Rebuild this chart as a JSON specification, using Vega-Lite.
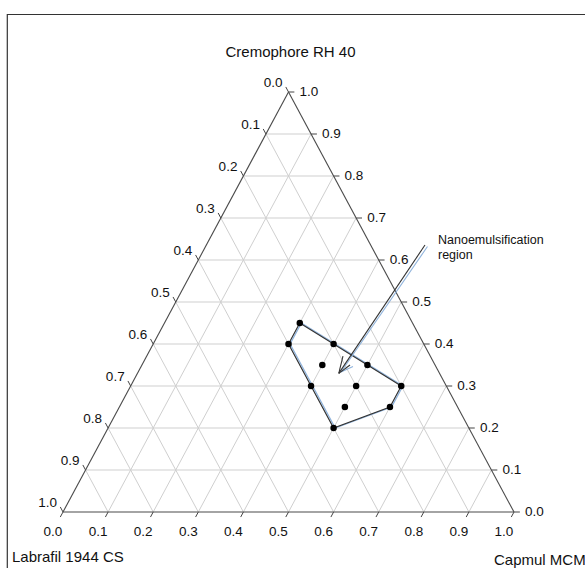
{
  "$schema": "https://vega.github.io/schema/vega-lite/v6.json",
  "width": 451,
  "height": 420,
  "autosize": {"type": "none"},
  "padding": {"left": 63, "top": 92, "right": 71, "bottom": 56},
  "background": "white",
  "config": {"view": {"stroke": null}, "text": {"font": "Liberation Sans", "color": "#111111"}},
  "datasets": {
    "grid": [
      {"a1": 0, "c1": 0.1, "a2": 0.9, "c2": 0.1},
      {"a1": 0, "c1": 0.2, "a2": 0.8, "c2": 0.2},
      {"a1": 0, "c1": 0.3, "a2": 0.7, "c2": 0.3},
      {"a1": 0, "c1": 0.4, "a2": 0.6, "c2": 0.4},
      {"a1": 0, "c1": 0.5, "a2": 0.5, "c2": 0.5},
      {"a1": 0, "c1": 0.6, "a2": 0.4, "c2": 0.6},
      {"a1": 0, "c1": 0.7, "a2": 0.3, "c2": 0.7},
      {"a1": 0, "c1": 0.8, "a2": 0.2, "c2": 0.8},
      {"a1": 0, "c1": 0.9, "a2": 0.1, "c2": 0.9},
      {"a1": 0.1, "c1": 0, "a2": 0.1, "c2": 0.9},
      {"a1": 0.2, "c1": 0, "a2": 0.2, "c2": 0.8},
      {"a1": 0.3, "c1": 0, "a2": 0.3, "c2": 0.7},
      {"a1": 0.4, "c1": 0, "a2": 0.4, "c2": 0.6},
      {"a1": 0.5, "c1": 0, "a2": 0.5, "c2": 0.5},
      {"a1": 0.6, "c1": 0, "a2": 0.6, "c2": 0.4},
      {"a1": 0.7, "c1": 0, "a2": 0.7, "c2": 0.3},
      {"a1": 0.8, "c1": 0, "a2": 0.8, "c2": 0.2},
      {"a1": 0.9, "c1": 0, "a2": 0.9, "c2": 0.1},
      {"a1": 0.1, "c1": 0, "a2": 0, "c2": 0.1},
      {"a1": 0.2, "c1": 0, "a2": 0, "c2": 0.2},
      {"a1": 0.3, "c1": 0, "a2": 0, "c2": 0.3},
      {"a1": 0.4, "c1": 0, "a2": 0, "c2": 0.4},
      {"a1": 0.5, "c1": 0, "a2": 0, "c2": 0.5},
      {"a1": 0.6, "c1": 0, "a2": 0, "c2": 0.6},
      {"a1": 0.7, "c1": 0, "a2": 0, "c2": 0.7},
      {"a1": 0.8, "c1": 0, "a2": 0, "c2": 0.8},
      {"a1": 0.9, "c1": 0, "a2": 0, "c2": 0.9}
    ],
    "edges": [
      {"a1": 0, "c1": 0, "a2": 1, "c2": 0},
      {"a1": 1, "c1": 0, "a2": 0, "c2": 1},
      {"a1": 0, "c1": 1, "a2": 0, "c2": 0}
    ],
    "ticks": [
      {"side": "b", "v": 0.0}, {"side": "b", "v": 0.1}, {"side": "b", "v": 0.2}, {"side": "b", "v": 0.3},
      {"side": "b", "v": 0.4}, {"side": "b", "v": 0.5}, {"side": "b", "v": 0.6}, {"side": "b", "v": 0.7},
      {"side": "b", "v": 0.8}, {"side": "b", "v": 0.9}, {"side": "b", "v": 1.0},
      {"side": "r", "v": 0.0}, {"side": "r", "v": 0.1}, {"side": "r", "v": 0.2}, {"side": "r", "v": 0.3},
      {"side": "r", "v": 0.4}, {"side": "r", "v": 0.5}, {"side": "r", "v": 0.6}, {"side": "r", "v": 0.7},
      {"side": "r", "v": 0.8}, {"side": "r", "v": 0.9}, {"side": "r", "v": 1.0},
      {"side": "l", "v": 0.0}, {"side": "l", "v": 0.1}, {"side": "l", "v": 0.2}, {"side": "l", "v": 0.3},
      {"side": "l", "v": 0.4}, {"side": "l", "v": 0.5}, {"side": "l", "v": 0.6}, {"side": "l", "v": 0.7},
      {"side": "l", "v": 0.8}, {"side": "l", "v": 0.9}, {"side": "l", "v": 1.0}
    ],
    "points": [
      {"capmul": 0.3, "crem": 0.45, "labrafil": 0.25},
      {"capmul": 0.3, "crem": 0.4, "labrafil": 0.3},
      {"capmul": 0.4, "crem": 0.4, "labrafil": 0.2},
      {"capmul": 0.4, "crem": 0.35, "labrafil": 0.25},
      {"capmul": 0.5, "crem": 0.35, "labrafil": 0.15},
      {"capmul": 0.4, "crem": 0.3, "labrafil": 0.3},
      {"capmul": 0.5, "crem": 0.3, "labrafil": 0.2},
      {"capmul": 0.6, "crem": 0.3, "labrafil": 0.1},
      {"capmul": 0.5, "crem": 0.25, "labrafil": 0.25},
      {"capmul": 0.6, "crem": 0.25, "labrafil": 0.15},
      {"capmul": 0.5, "crem": 0.2, "labrafil": 0.3}
    ],
    "region": [
      {"o": 1, "capmul": 0.3, "crem": 0.45},
      {"o": 2, "capmul": 0.6, "crem": 0.3},
      {"o": 3, "capmul": 0.6, "crem": 0.25},
      {"o": 4, "capmul": 0.5, "crem": 0.2},
      {"o": 5, "capmul": 0.3, "crem": 0.4},
      {"o": 6, "capmul": 0.3, "crem": 0.45}
    ],
    "arrow": [
      {"kind": "blue", "a1": 0.4921, "c1": 0.6321, "a2": 0.4497, "c2": 0.3333},
      {"kind": "blue", "a1": 0.4497, "c1": 0.3333, "a2": 0.4698, "c2": 0.3464},
      {"kind": "dark", "a1": 0.4848, "c1": 0.6357, "a2": 0.4465, "c2": 0.330},
      {"kind": "dark", "a1": 0.4465, "c1": 0.330, "a2": 0.4351, "c2": 0.3714},
      {"kind": "dark", "a1": 0.4465, "c1": 0.330, "a2": 0.4614, "c2": 0.350}
    ],
    "labels": [
      {"pos": "top", "a1": 0, "c1": 1, "text": "Cremophore RH 40"},
      {"pos": "left", "a1": 0, "c1": 0, "text": "Labrafil 1944 CS"},
      {"pos": "right", "a1": 1, "c1": 0, "text": "Capmul MCM"},
      {"pos": "note", "a1": 0.4848, "c1": 0.6357, "text": "Nanoemulsification\nregion"}
    ]
  },
  "layer": [
    {
      "data": {"values": [{}]},
      "mark": {"type": "rect", "fill": null, "stroke": "#333333", "strokeWidth": 1.2},
      "encoding": {
        "x": {"datum": -0.1235, "type": "quantitative", "scale": {"domain": [0, 1], "nice": false, "zero": false}, "axis": null},
        "x2": {"datum": 1.2},
        "y": {"datum": 1.1845, "type": "quantitative", "scale": {"domain": [0, 1], "nice": false, "zero": false}, "axis": null},
        "y2": {"datum": -0.25}
      }
    },
    {
      "data": {"name": "grid"},
      "transform": [
        {"calculate": "datum.a1 + datum.c1 / 2", "as": "x"},
        {"calculate": "datum.a2 + datum.c2 / 2", "as": "x2"}
      ],
      "mark": {"type": "rule", "stroke": "#cfcfcf", "strokeWidth": 1},
      "encoding": {
        "x": {"field": "x", "type": "quantitative", "scale": {"domain": [0, 1], "nice": false, "zero": false}, "axis": null},
        "y": {"field": "c1", "type": "quantitative", "scale": {"domain": [0, 1], "nice": false, "zero": false}, "axis": null},
        "x2": {"field": "x2"},
        "y2": {"field": "c2"}
      }
    },
    {
      "data": {"name": "ticks"},
      "transform": [
        {"calculate": "datum.side == 'b' ? datum.v : (datum.side == 'r' ? 1 - datum.v : 0)", "as": "a1"},
        {"calculate": "datum.side == 'b' ? 0 : (datum.side == 'r' ? datum.v : 1 - datum.v)", "as": "c1"},
        {"calculate": "datum.side == 'b' ? datum.v : (datum.side == 'r' ? 1 - datum.v + 0.013 : -0.012)", "as": "a2"},
        {"calculate": "datum.side == 'b' ? -0.012 : (datum.side == 'r' ? datum.v : 1 - datum.v + 0.012)", "as": "c2"},
        {"calculate": "datum.a1 + datum.c1 / 2", "as": "x"},
        {"calculate": "datum.a2 + datum.c2 / 2", "as": "x2"}
      ],
      "mark": {"type": "rule", "stroke": "#444444", "strokeWidth": 1},
      "encoding": {
        "x": {"field": "x", "type": "quantitative", "scale": {"domain": [0, 1], "nice": false, "zero": false}, "axis": null},
        "y": {"field": "c1", "type": "quantitative", "scale": {"domain": [0, 1], "nice": false, "zero": false}, "axis": null},
        "x2": {"field": "x2"},
        "y2": {"field": "c2"}
      }
    },
    {
      "data": {"name": "edges"},
      "transform": [
        {"calculate": "datum.a1 + datum.c1 / 2", "as": "x"},
        {"calculate": "datum.a2 + datum.c2 / 2", "as": "x2"}
      ],
      "mark": {"type": "rule", "stroke": "#4a4a4a", "strokeWidth": 1.1},
      "encoding": {
        "x": {"field": "x", "type": "quantitative", "scale": {"domain": [0, 1], "nice": false, "zero": false}, "axis": null},
        "y": {"field": "c1", "type": "quantitative", "scale": {"domain": [0, 1], "nice": false, "zero": false}, "axis": null},
        "x2": {"field": "x2"},
        "y2": {"field": "c2"}
      }
    },
    {
      "data": {"name": "ticks"},
      "transform": [
        {"filter": "datum.side == 'b'"},
        {"calculate": "datum.v", "as": "x"},
        {"calculate": "0", "as": "c1"}
      ],
      "mark": {"type": "text", "fontSize": 13.5, "align": "center", "baseline": "middle", "dx": -10, "dy": 20},
      "encoding": {
        "x": {"field": "x", "type": "quantitative", "scale": {"domain": [0, 1], "nice": false, "zero": false}, "axis": null},
        "y": {"field": "c1", "type": "quantitative", "scale": {"domain": [0, 1], "nice": false, "zero": false}, "axis": null},
        "text": {"field": "v", "type": "quantitative", "format": ".1f"}
      }
    },
    {
      "data": {"name": "ticks"},
      "transform": [
        {"filter": "datum.side == 'r'"},
        {"calculate": "1 - datum.v + datum.v / 2", "as": "x"},
        {"calculate": "datum.v", "as": "c1"}
      ],
      "mark": {"type": "text", "fontSize": 13.5, "align": "left", "baseline": "middle", "dx": 11, "dy": 0},
      "encoding": {
        "x": {"field": "x", "type": "quantitative", "scale": {"domain": [0, 1], "nice": false, "zero": false}, "axis": null},
        "y": {"field": "c1", "type": "quantitative", "scale": {"domain": [0, 1], "nice": false, "zero": false}, "axis": null},
        "text": {"field": "v", "type": "quantitative", "format": ".1f"}
      }
    },
    {
      "data": {"name": "ticks"},
      "transform": [
        {"filter": "datum.side == 'l'"},
        {"calculate": "(1 - datum.v) / 2", "as": "x"},
        {"calculate": "1 - datum.v", "as": "c1"}
      ],
      "mark": {"type": "text", "fontSize": 13.5, "align": "right", "baseline": "middle", "dx": -6, "dy": -9},
      "encoding": {
        "x": {"field": "x", "type": "quantitative", "scale": {"domain": [0, 1], "nice": false, "zero": false}, "axis": null},
        "y": {"field": "c1", "type": "quantitative", "scale": {"domain": [0, 1], "nice": false, "zero": false}, "axis": null},
        "text": {"field": "v", "type": "quantitative", "format": ".1f"}
      }
    },
    {
      "data": {"name": "region"},
      "transform": [
        {"calculate": "datum.capmul + datum.crem / 2 + 0.0035", "as": "x"}
      ],
      "mark": {"type": "line", "stroke": "#8fb3dc", "strokeWidth": 1.3},
      "encoding": {
        "x": {"field": "x", "type": "quantitative", "scale": {"domain": [0, 1], "nice": false, "zero": false}, "axis": null},
        "y": {"field": "crem", "type": "quantitative", "scale": {"domain": [0, 1], "nice": false, "zero": false}, "axis": null},
        "order": {"field": "o", "type": "quantitative"}
      }
    },
    {
      "data": {"name": "region"},
      "transform": [
        {"calculate": "datum.capmul + datum.crem / 2", "as": "x"}
      ],
      "mark": {"type": "line", "stroke": "#333333", "strokeWidth": 1.1},
      "encoding": {
        "x": {"field": "x", "type": "quantitative", "scale": {"domain": [0, 1], "nice": false, "zero": false}, "axis": null},
        "y": {"field": "crem", "type": "quantitative", "scale": {"domain": [0, 1], "nice": false, "zero": false}, "axis": null},
        "order": {"field": "o", "type": "quantitative"}
      }
    },
    {
      "data": {"name": "arrow"},
      "transform": [
        {"calculate": "datum.a1 + datum.c1 / 2", "as": "x"},
        {"calculate": "datum.a2 + datum.c2 / 2", "as": "x2"}
      ],
      "mark": {"type": "rule", "strokeWidth": 1.1},
      "encoding": {
        "x": {"field": "x", "type": "quantitative", "scale": {"domain": [0, 1], "nice": false, "zero": false}, "axis": null},
        "y": {"field": "c1", "type": "quantitative", "scale": {"domain": [0, 1], "nice": false, "zero": false}, "axis": null},
        "x2": {"field": "x2"},
        "y2": {"field": "c2"},
        "color": {"field": "kind", "type": "nominal", "scale": {"domain": ["blue", "dark"], "range": ["#8fb3dc", "#333333"]}, "legend": null}
      }
    },
    {
      "data": {"name": "points"},
      "transform": [
        {"calculate": "datum.capmul + datum.crem / 2", "as": "x"}
      ],
      "mark": {"type": "point", "filled": true, "size": 42, "color": "#000000", "opacity": 1},
      "encoding": {
        "x": {"field": "x", "type": "quantitative", "scale": {"domain": [0, 1], "nice": false, "zero": false}, "axis": null},
        "y": {"field": "crem", "type": "quantitative", "scale": {"domain": [0, 1], "nice": false, "zero": false}, "axis": null}
      }
    },
    {
      "data": {"name": "labels"},
      "transform": [
        {"filter": "datum.pos == 'top'"},
        {"calculate": "datum.a1 + datum.c1 / 2", "as": "x"}
      ],
      "mark": {"type": "text", "fontSize": 15, "align": "center", "baseline": "middle", "dx": 2, "dy": -40},
      "encoding": {
        "x": {"field": "x", "type": "quantitative", "scale": {"domain": [0, 1], "nice": false, "zero": false}, "axis": null},
        "y": {"field": "c1", "type": "quantitative", "scale": {"domain": [0, 1], "nice": false, "zero": false}, "axis": null},
        "text": {"field": "text"}
      }
    },
    {
      "data": {"name": "labels"},
      "transform": [
        {"filter": "datum.pos == 'left'"},
        {"calculate": "datum.a1 + datum.c1 / 2", "as": "x"}
      ],
      "mark": {"type": "text", "fontSize": 15, "align": "left", "baseline": "middle", "dx": -51, "dy": 45},
      "encoding": {
        "x": {"field": "x", "type": "quantitative", "scale": {"domain": [0, 1], "nice": false, "zero": false}, "axis": null},
        "y": {"field": "c1", "type": "quantitative", "scale": {"domain": [0, 1], "nice": false, "zero": false}, "axis": null},
        "text": {"field": "text"}
      }
    },
    {
      "data": {"name": "labels"},
      "transform": [
        {"filter": "datum.pos == 'right'"},
        {"calculate": "datum.a1 + datum.c1 / 2", "as": "x"}
      ],
      "mark": {"type": "text", "fontSize": 15, "align": "left", "baseline": "middle", "dx": -20, "dy": 48},
      "encoding": {
        "x": {"field": "x", "type": "quantitative", "scale": {"domain": [0, 1], "nice": false, "zero": false}, "axis": null},
        "y": {"field": "c1", "type": "quantitative", "scale": {"domain": [0, 1], "nice": false, "zero": false}, "axis": null},
        "text": {"field": "text"}
      }
    },
    {
      "data": {"name": "labels"},
      "transform": [
        {"filter": "datum.pos == 'note'"},
        {"calculate": "datum.a1 + datum.c1 / 2", "as": "x"}
      ],
      "mark": {"type": "text", "fontSize": 12.5, "align": "left", "baseline": "top", "lineBreak": "\n", "lineHeight": 15, "dx": 13, "dy": -11},
      "encoding": {
        "x": {"field": "x", "type": "quantitative", "scale": {"domain": [0, 1], "nice": false, "zero": false}, "axis": null},
        "y": {"field": "c1", "type": "quantitative", "scale": {"domain": [0, 1], "nice": false, "zero": false}, "axis": null},
        "text": {"field": "text"}
      }
    }
  ]
}
